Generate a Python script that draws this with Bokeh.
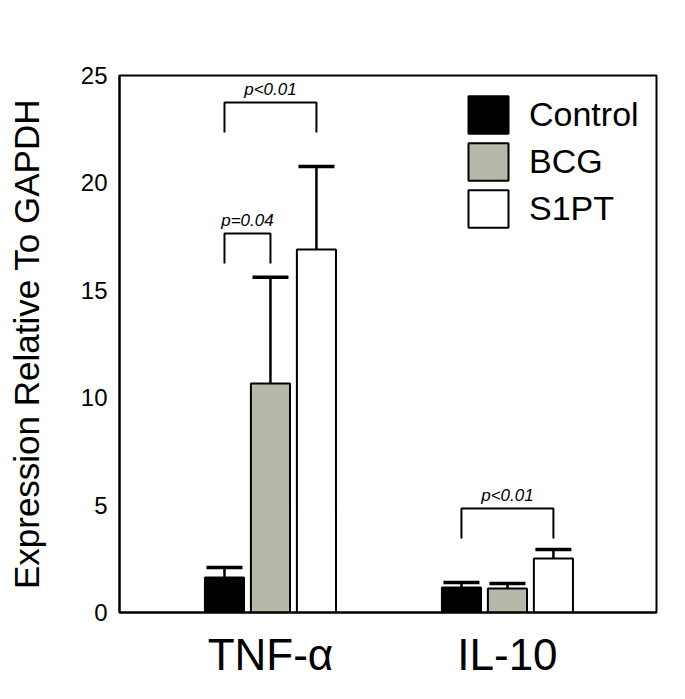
from bokeh.plotting import figure
from bokeh.models import (Range1d, FixedTicker, ColumnDataSource, Whisker, TeeHead,
                          Legend, LegendItem)
from bokeh.embed import file_html
from bokeh.resources import INLINE
from bokeh.core.properties import value

# ---- data ----
genes = ["TNF-\u03b1", "IL-10"]
series = ["Control", "BCG", "S1PT"]
control_vals = [1.63, 1.16]
bcg_vals = [10.66, 1.12]
s1pt_vals = [16.9, 2.51]
control_err = [0.47, 0.24]
bcg_err = [4.95, 0.23]
s1pt_err = [3.86, 0.42]
y_ticks = [0, 5, 10, 15, 20, 25]
y_title = "Expression Relative To GAPDH"

# significance brackets: gene index, from series index, to series index, bracket top, leg bottom, label
br_gene = [0, 0, 1]
br_from = [0, 0, 0]
br_to = [2, 1, 2]
br_top = [23.74, 17.64, 4.84]
br_bottom = [22.35, 16.25, 3.45]
br_label = ["p<0.01", "p=0.04", "p<0.01"]

# ---- layout / style ----
FONT = "Liberation Sans"
colors = ["#000000", "#b7b7aa", "#ffffff"]
offsets = [-0.194, 0.0, 0.194]
bar_w = 0.165
X0, X1 = -0.637, 1.629

p = figure(width=677, height=691, output_backend="svg", toolbar_location=None,
           x_range=Range1d(X0, X1), y_range=Range1d(0, 25),
           min_border_left=119, min_border_right=21, min_border_top=75, min_border_bottom=79)
p.background_fill_color = "white"
p.border_fill_color = "white"
p.grid.visible = False
p.outline_line_color = "black"
p.outline_line_width = 2
p.outline_line_alpha = 1

vals = [control_vals, bcg_vals, s1pt_vals]
errs = [control_err, bcg_err, s1pt_err]
gx = list(range(len(genes)))
renderers = []
for si, name in enumerate(series):
    xs = [g + offsets[si] for g in gx]
    src = ColumnDataSource(dict(x=xs, top=vals[si],
                                upper=[v + e for v, e in zip(vals[si], errs[si])]))
    w = Whisker(source=src, base="x", lower="top", upper="upper", dimension="height",
                line_color="black", line_width=2.5,
                upper_head=TeeHead(size=36, line_width=3.5, line_color="black"),
                lower_head=None)
    p.add_layout(w)
    r = p.vbar(x="x", top="top", bottom=0, width=bar_w, source=src,
               fill_color=colors[si], line_color="black", line_width=2)
    renderers.append(r)

# brackets
bxs, bys, tx, ty = [], [], [], []
for g, a, b, t, bt in zip(br_gene, br_from, br_to, br_top, br_bottom):
    x0 = g + offsets[a]
    x1 = g + offsets[b]
    bxs.append([x0, x0, x1, x1])
    bys.append([bt, t, t, bt])
    tx.append((x0 + x1) / 2)
    ty.append(t)
p.multi_line(xs=bxs, ys=bys, line_color="black", line_width=2)
p.text(x=tx, y=ty, text=br_label, text_align="center", text_baseline="bottom",
       y_offset=-4, text_font=value(FONT), text_font_style="italic",
       text_font_size="17px", text_color="black")

# axes
p.yaxis.ticker = FixedTicker(ticks=y_ticks)
p.yaxis.major_tick_line_color = None
p.yaxis.minor_tick_line_color = None
p.yaxis.major_tick_out = 0
p.yaxis.major_label_text_font = FONT
p.yaxis.major_label_text_font_size = "24px"
p.yaxis.major_label_text_color = "black"
p.yaxis.major_label_standoff = 12
p.yaxis.axis_line_width = 2
p.yaxis.axis_label = y_title
p.yaxis.axis_label_text_font = FONT
p.yaxis.axis_label_text_font_size = "35px"
p.yaxis.axis_label_text_font_style = "normal"
p.yaxis.axis_label_text_color = "black"
p.yaxis.axis_label_standoff = 32

p.xaxis.ticker = FixedTicker(ticks=gx)
p.xaxis.major_label_overrides = {i: g for i, g in enumerate(genes)}
p.xaxis.major_tick_line_color = None
p.xaxis.minor_tick_line_color = None
p.xaxis.major_tick_out = 0
p.xaxis.major_label_text_font = FONT
p.xaxis.major_label_text_font_size = "44px"
p.xaxis.major_label_text_color = "black"
p.xaxis.major_label_standoff = 17
p.xaxis.axis_line_width = 2

legend = Legend(items=[LegendItem(label=s, renderers=[r]) for s, r in zip(series, renderers)],
                location=(344, 380), glyph_width=50, glyph_height=47, spacing=0,
                padding=0, margin=0, label_standoff=16,
                label_text_font=FONT, label_text_font_size="34px", label_text_color="black",
                border_line_color=None, background_fill_alpha=0)
p.add_layout(legend)

open("out.html", "w").write(file_html(p, INLINE))
